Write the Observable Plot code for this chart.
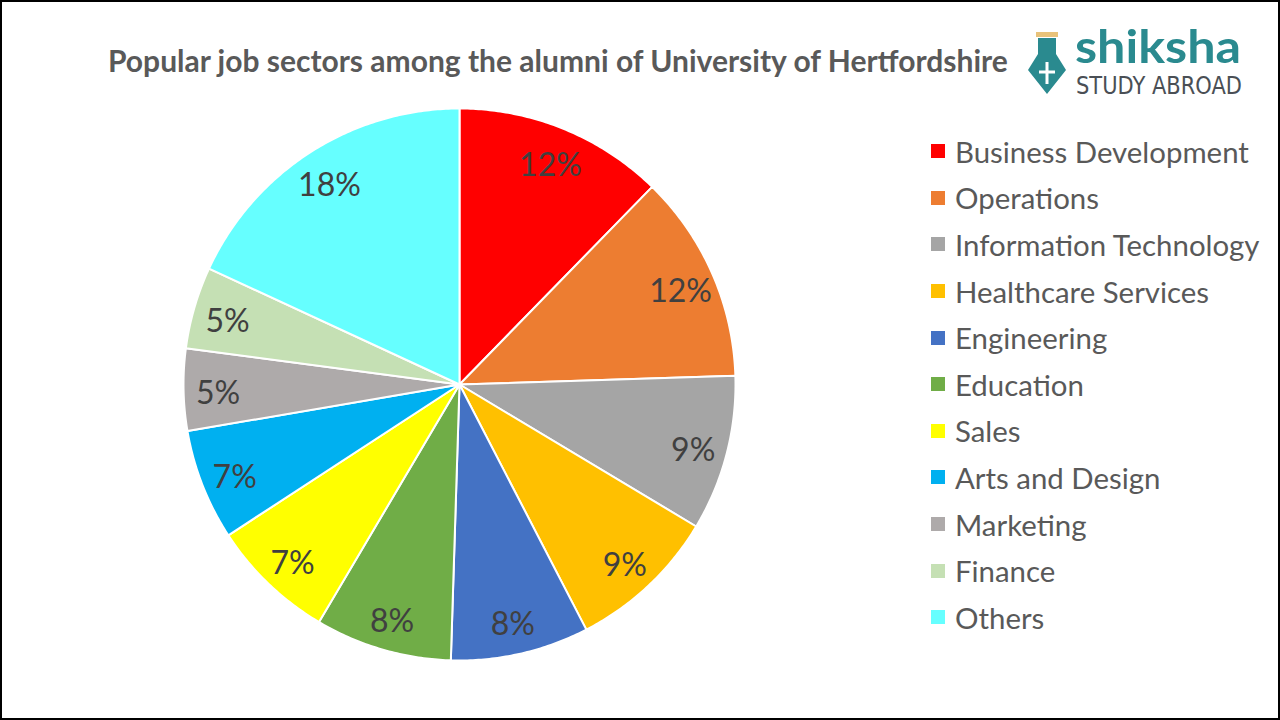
<!DOCTYPE html>
<html>
<head>
<meta charset="utf-8">
<script src="https://cdn.jsdelivr.net/npm/d3@7"></script>
<script src="https://cdn.jsdelivr.net/npm/@observablehq/plot@0.6"></script>
<style>
  html, body { margin: 0; padding: 0; background: #fff; }
  #wrap { position: relative; width: 1280px; height: 720px; overflow: hidden; background: #fff; font-family: Lato, "Open Sans", sans-serif; }
  #frame { position: absolute; left: 0; top: 0; width: 1276px; height: 716px; border: 2px solid #000; pointer-events: none; }
  #title { position: absolute; left: 108px; top: 42px; font-weight: 700; font-size: 30px; color: #595959; white-space: nowrap; }
  #chart { position: absolute; left: 0; top: 0; }
  #legend { position: absolute; left: 931px; top: 128px; }
  .row { position: relative; height: 46.6px; display: flex; align-items: center; }
  .sw { width: 14px; height: 14px; margin-right: 10px; }
  .lab { font-size: 29.4px; color: #595959; white-space: nowrap; }
  #logo { position: absolute; left: 1022px; top: 8px; width: 250px; height: 104px; }
  #logo svg { overflow: visible; }
</style>
</head>
<body>
<div id="wrap">
  <div id="chart"></div>
  <div id="title"></div>
  <div id="legend"></div>
  <div id="logo">
    <svg width="250" height="104" viewBox="0 0 250 104">
      <rect x="14" y="24" width="22" height="5" fill="#e8c27a"/>
      <path d="M16 30 L34 30 L34 46 L44 62 L25 86 L6 62 L16 46 Z" fill="#2a8a8f"/>
      <path d="M25 54 L25 76 M17 64 L33 64" stroke="#fff" stroke-width="3"/>
      <text x="53" y="55" font-family="Lato, sans-serif" font-weight="700" font-size="46" fill="#2a8a8f" textLength="166" lengthAdjust="spacingAndGlyphs">shiksha</text>
      <text x="54" y="86" font-family="'DejaVu Sans Condensed', 'Liberation Sans Narrow', sans-serif" font-size="25" fill="#4a4f55" textLength="166" lengthAdjust="spacingAndGlyphs">STUDY ABROAD</text>
    </svg>
  </div>
  <div id="frame"></div>
</div>
<script>
const titleText = "Popular job sectors among the alumni of University of Hertfordshire";
const sectors = ["Business Development", "Operations", "Information Technology", "Healthcare Services", "Engineering", "Education", "Sales", "Arts and Design", "Marketing", "Finance", "Others"];
const shares = [12.3, 12.2, 9.1, 8.8, 8.1, 8.0, 7.3, 6.5, 4.8, 4.8, 18.1];
const palette = ["#FF0000", "#ED7D31", "#A5A5A5", "#FFC000", "#4472C4", "#70AD47", "#FFFF00", "#00B0F0", "#AEAAAA", "#C5E0B4", "#66FFFF"];

document.getElementById("title").textContent = titleText;

const total = d3.sum(shares);
const arcs = d3.pie().sort(null).value(d => d)(shares);

// Build slice outlines in unit-circle coordinates (angle clockwise from top)
const slicePts = [];
const labels = [];
arcs.forEach((a, i) => {
  const name = sectors[i];
  slicePts.push({sector: name, x: 0, y: 0});
  const n = Math.max(8, Math.ceil((a.endAngle - a.startAngle) / 0.01));
  for (let k = 0; k <= n; k++) {
    const t = a.startAngle + (a.endAngle - a.startAngle) * k / n;
    slicePts.push({sector: name, x: Math.sin(t), y: Math.cos(t)});
  }
  slicePts.push({sector: name, x: 0, y: 0});
  const mid = (a.startAngle + a.endAngle) / 2;
  labels.push({sector: name, x: 0.875 * Math.sin(mid), y: 0.875 * Math.cos(mid), text: Math.round(shares[i] / total * 100) + "%"});
});

const plot = Plot.plot({
  width: 1280,
  height: 720,
  marginLeft: 183,
  marginRight: 545,
  marginTop: 108,
  marginBottom: 60,
  x: {domain: [-1, 1], axis: null},
  y: {domain: [-1, 1], axis: null},
  color: {domain: sectors, range: palette},
  style: {background: "transparent", fontFamily: "Lato, 'Open Sans', sans-serif"},
  marks: [
    Plot.line(slicePts, {x: "x", y: "y", z: "sector", fill: "sector", stroke: "white", strokeWidth: 2, strokeLinejoin: "round", curve: "linear"}),
    Plot.text(labels, {x: "x", y: "y", text: "text", fill: "#404040", fontSize: 32, dy: 5})
  ]
});
document.getElementById("chart").appendChild(plot);

const color = plot.scale("color");
const legend = document.getElementById("legend");
sectors.forEach(s => {
  const row = document.createElement("div");
  row.className = "row";
  const sw = document.createElement("div");
  sw.className = "sw";
  sw.style.background = color.apply(s);
  const lab = document.createElement("div");
  lab.className = "lab";
  lab.textContent = s;
  row.appendChild(sw);
  row.appendChild(lab);
  legend.appendChild(row);
});
</script>
</body>
</html>
